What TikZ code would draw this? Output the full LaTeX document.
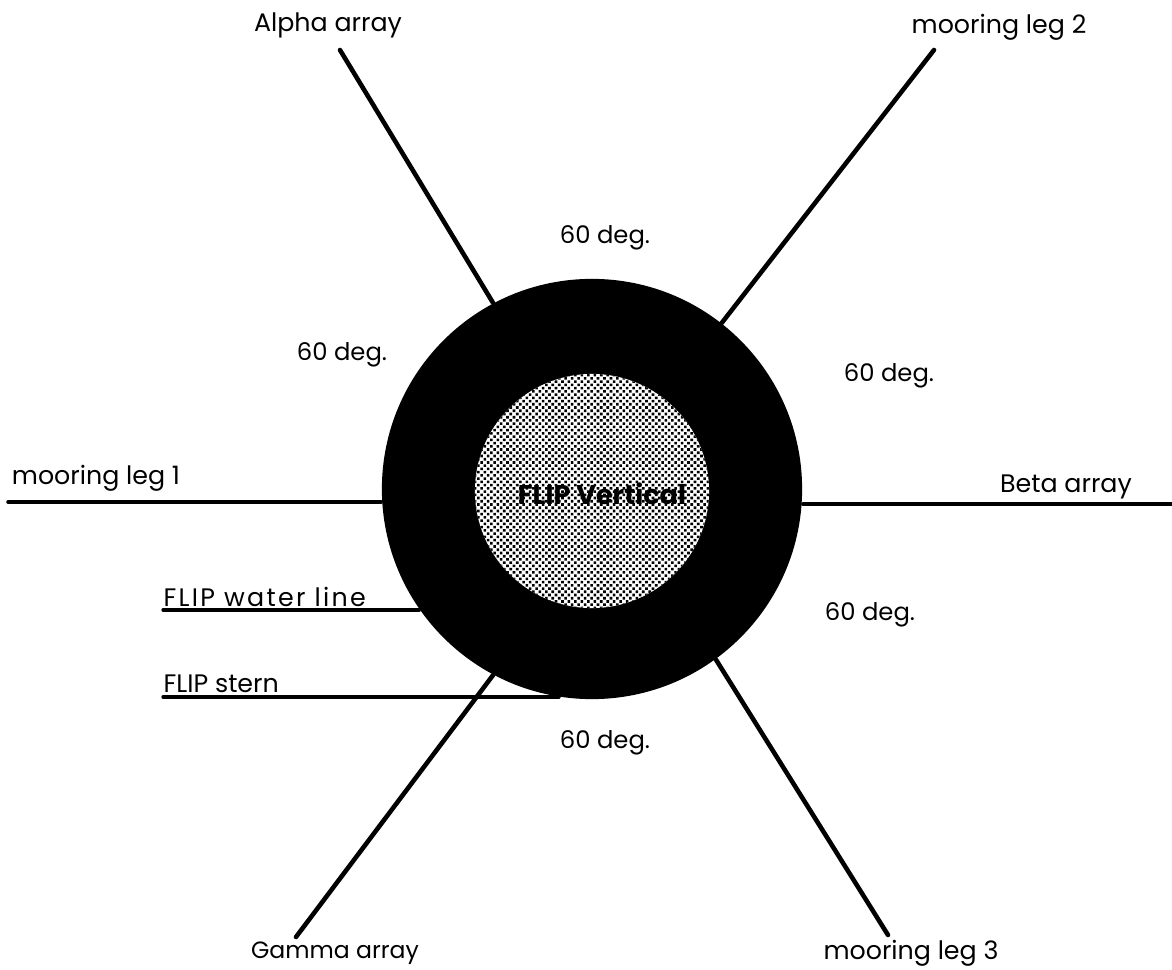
\documentclass[tikz,border=0pt]{standalone}
\usepackage{fontspec}
\setmainfont{Poppins}
\usetikzlibrary{positioning,patterns.meta}
\tikzset{
  lbl/.style={font=\fontsize{7.2}{8}\selectfont,inner sep=0pt},
  leg/.style={line width=1.3pt,line cap=round},
  wline/.style={line width=0.95pt,line cap=round},
  hullc/.style={circle,fill=black,inner sep=0pt,minimum size=4.2cm},
  corec/.style={circle,inner sep=0pt,minimum size=2.34cm,preaction={fill=white},
                pattern={Dots[distance=1.3pt,radius=0.52pt,angle=45]},pattern color=black},
}
\begin{document}
\begin{tikzpicture}[x=0.01cm,y=-0.01cm]
\useasboundingbox (0,0) rectangle (1172,970);

% free ends of the lines
\coordinate (alphaend) at (340,50);
\coordinate (leg2end) at (934,50);
\coordinate (betaend) at (1172,504);
\coordinate (leg1end) at (8,502);
\coordinate (leg3end) at (888,935);
\coordinate (gammaend) at (296,937);
\coordinate (wlend) at (163,610);
\coordinate (sternend) at (163,697);

% hull and core
\node[hullc] (hull) at (592,489) {};
\node[corec] (core) at (592,491) {};
\node[font=\fontsize{7.7}{8}\selectfont\bfseries,inner sep=0pt] (flip) at (602,494) {FLIP Vertical};

\draw[leg] (alphaend) -- (hull.118);
\draw[leg] (leg2end) -- (hull.52);
\draw[leg,line width=1pt] (betaend) -- (hull.east |- betaend);
\draw[leg,line width=1pt] (leg1end) -- (hull.west |- leg1end);
\draw[leg] (leg3end) -- (hull.-54);
\draw[leg] (gammaend) -- (hull.-118);
\draw[wline] (wlend) -- (hull.215 |- wlend);
\draw[wline] (sternend) -- (hull.261 |- sternend);

% labels
\node[lbl] (alpha) at (328,25) {Alpha array};
\node[lbl] (leg2) at (999,27) {mooring leg 2};
\node[lbl] (leg1) at (96,478) {mooring leg 1};
\node[lbl] (beta) at (1066,487) {Beta array};
\node[lbl,font=\fontsize{6.7}{8}\selectfont] (gamma) at (335,953) {Gamma array};
\node[lbl] (leg3) at (911,953) {mooring leg 3};
\node[lbl,right,font=\fontsize{7.2}{8}\selectfont\addfontfeature{LetterSpace=9}] (wl) at (163,597) {FLIP water line};
\node[lbl,right] (stern) at (163,684) {FLIP stern};

% angles
\foreach \n/\x/\y in {a/605/238, b/342/355, c/889/376, d/870/615, e/605/743}
  \node[lbl,font=\fontsize{6.9}{8}\selectfont] (deg\n) at (\x,\y) {60 deg.};
\end{tikzpicture}
\end{document}
